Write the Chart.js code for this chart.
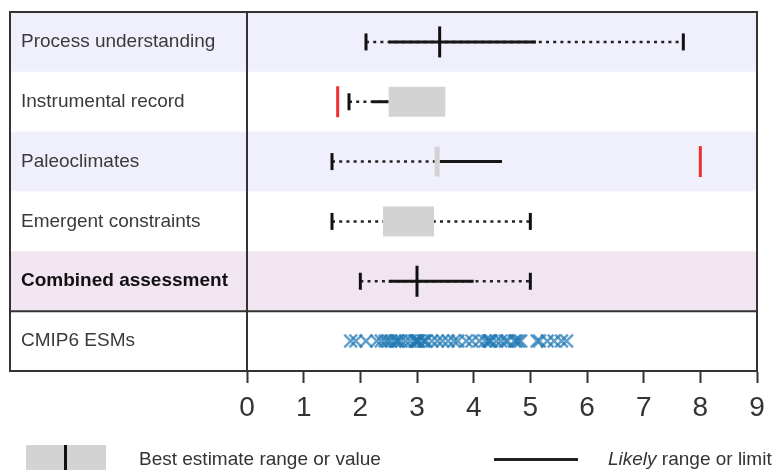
<!DOCTYPE html>
<html>
<head>
<meta charset="utf-8">
<script src="https://cdn.jsdelivr.net/npm/chart.js@4.4.0/dist/chart.umd.min.js"></script>
<style>
  html, body { margin: 0; padding: 0; background: #fff; }
  #wrap { position: relative; width: 775px; height: 470px; overflow: hidden; font-family: "Liberation Sans", Arial, sans-serif; }
  #legend .box { position: absolute; left: 26px; top: 445px; width: 80px; height: 30px; background: #d3d3d3; }
  #legend .box div { position: absolute; left: 38px; top: 0; width: 3px; height: 30px; background: #111; }
  #legend .line { position: absolute; left: 494px; top: 458px; width: 84px; height: 3px; background: #222; }
  #legend span { position: absolute; top: 448px; font-size: 19px; color: #333; white-space: nowrap; }
</style>
</head>
<body>
<div id="wrap">
  <canvas id="ecs-chart" width="775" height="470"></canvas>
  <div id="legend">
    <div class="box"><div></div></div>
    <span style="left:139px">Best estimate range or value</span>
    <div class="line"></div>
    <span style="left:608px"><i>Likely</i> range or limit</span>
  </div>
</div>
<script>
// Filas (de arriba a abajo)
const rowNames = ['Process understanding', 'Instrumental record', 'Paleoclimates', 'Emergent constraints', 'Combined assessment', 'CMIP6 ESMs'];
const xTicks = [0, 1, 2, 3, 4, 5, 6, 7, 8, 9];

// Rangos por fila (null = no aplica)
const bestLow  = [null, 2.5, 3.31, 2.4, null, null];
const bestHigh = [null, 3.5, 3.40, 3.3, null, null];
const bestValue = [3.4, null, null, null, 3.0, null];
const likelyLow  = [2.5, 2.2, 3.4, null, 2.5, null];
const likelyHigh = [5.1, 2.5, 4.5, null, 4.0, null];
const veryLikelyLow  = [2.1, 1.8, 1.5, 1.5, 2.0, null];
const veryLikelyHigh = [7.7, null, null, 5.0, 5.0, null];
const extremelyLow  = [null, 1.6, null, null, null, null];
const extremelyHigh = [null, null, 8.0, null, null, null];

// ECS de los modelos CMIP6
const cmip6Ecs = [1.83, 1.92, 2.1, 2.29, 2.37, 2.44, 2.49, 2.54, 2.61, 2.65, 2.66, 2.72, 2.8, 2.88, 2.96, 2.98,
  3.0, 3.02, 3.03, 3.11, 3.13, 3.16, 3.26, 3.36, 3.45, 3.55, 3.65, 3.72, 3.87, 3.97, 4.1, 4.2, 4.26, 4.28,
  4.31, 4.4, 4.48, 4.56, 4.6, 4.72, 4.75, 4.79, 4.83, 5.12, 5.16, 5.3, 5.42, 5.55, 5.64];

const rowFills = ['#f0f0fc', '#ffffff', '#f0f0fc', '#ffffff', '#f2e5f2', '#ffffff'];

const datasets = [];
const seg = (a, b, i) => [{x: a, y: i}, {x: b, y: i}];

// marcas de límites (negras y rojas) y mejor estimación
const endTicks = [], redTicks = [], bestTicks = [];
rowNames.forEach((_, i) => {
  if (veryLikelyLow[i] != null) endTicks.push({x: veryLikelyLow[i], y: i});
  if (veryLikelyHigh[i] != null) endTicks.push({x: veryLikelyHigh[i], y: i});
  if (extremelyLow[i] != null) redTicks.push({x: extremelyLow[i], y: i});
  if (extremelyHigh[i] != null) redTicks.push({x: extremelyHigh[i], y: i});
  if (bestValue[i] != null) bestTicks.push({x: bestValue[i], y: i});
});
const tickSet = (data, color, r) => ({
  type: 'scatter', data, showLine: false, pointStyle: 'line', pointRotation: 90,
  pointRadius: r, pointBorderWidth: 3, pointBorderColor: color, pointBackgroundColor: color
});
datasets.push(tickSet(bestTicks, '#111', 15.5));
datasets.push(tickSet(endTicks, '#111', 8.5));
datasets.push(tickSet(redTicks, '#f03030', 15.5));

// cajas grises
rowNames.forEach((_, i) => {
  if (bestLow[i] != null) datasets.push({type: 'line', data: seg(bestLow[i], bestHigh[i], i),
    borderColor: '#d3d3d3', borderWidth: 30, borderCapStyle: 'butt', pointRadius: 0});
});
// rango probable (línea continua)
rowNames.forEach((_, i) => {
  if (likelyLow[i] != null) datasets.push({type: 'line', data: seg(likelyLow[i], likelyHigh[i], i),
    borderColor: '#161616', borderWidth: 3, borderCapStyle: 'butt', pointRadius: 0});
});
// rango muy probable (punteado)
rowNames.forEach((_, i) => {
  if (veryLikelyLow[i] == null) return;
  const hi = veryLikelyHigh[i] ?? likelyHigh[i] ?? bestHigh[i];
  datasets.push({type: 'line', data: seg(veryLikelyLow[i], hi, i),
    borderColor: '#222', borderWidth: 2.5, borderDash: [3, 4.2], borderCapStyle: 'butt', pointRadius: 0});
});
// modelos CMIP6
datasets.push({type: 'scatter', data: cmip6Ecs.map(v => ({x: v, y: 5})), showLine: false,
  pointStyle: 'crossRot', pointRadius: 9, pointBorderWidth: 2.5,
  pointBorderColor: 'rgba(31,119,180,0.7)', pointBackgroundColor: 'rgba(31,119,180,0.7)'});

const framePlugin = {
  id: 'frame',
  beforeDraw(chart) {
    const {ctx, chartArea, scales: {y}} = chart;
    ctx.save();
    rowNames.forEach((_, i) => {
      const t = y.getPixelForValue(i - 0.5), b = y.getPixelForValue(i + 0.5);
      ctx.fillStyle = rowFills[i];
      ctx.fillRect(10, t, chartArea.right - 10, b - t);
    });
    ctx.restore();
  },
  afterDraw(chart) {
    const {ctx, chartArea: {left, right, top, bottom}, scales: {y}} = chart;
    ctx.save();
    ctx.strokeStyle = '#333';
    ctx.lineWidth = 2;
    ctx.strokeRect(10, top, right - 10, bottom - top);
    const sep = y.getPixelForValue(4.5);
    ctx.beginPath();
    ctx.moveTo(10, sep); ctx.lineTo(right, sep);
    ctx.moveTo(left, top); ctx.lineTo(left, bottom);
    ctx.stroke();
    ctx.restore();
  }
};

new Chart(document.getElementById('ecs-chart'), {
  type: 'scatter',
  data: { datasets },
  plugins: [framePlugin],
  options: {
    responsive: false,
    devicePixelRatio: 1,
    animation: false,
    layout: { autoPadding: false, padding: { left: 21, top: 12, right: 18, bottom: 50 } },
    plugins: { legend: { display: false }, tooltip: { enabled: false } },
    scales: {
      x: {
        type: 'linear', min: 0, max: 9,
        afterFit: s => { s.height = 49; },
        afterBuildTicks: s => { s.ticks = xTicks.map(v => ({value: v})); },
        grid: { drawOnChartArea: false, drawTicks: true, tickLength: 12, tickWidth: 2, tickColor: '#333' },
        border: { display: true, color: '#333', width: 2 },
        ticks: { color: '#333', padding: 8, font: { family: 'Liberation Sans', size: 28 } }
      },
      y: {
        type: 'linear', min: -0.5, max: 5.5, reverse: true,
        afterFit: s => { s.width = 226; s.paddingTop = 0; s.paddingBottom = 0; },
        afterBuildTicks: s => { s.ticks = rowNames.map((_, i) => ({value: i})); },
        grid: { display: false },
        border: { display: false },
        ticks: {
          crossAlign: 'far', padding: 0,
          callback: v => rowNames[v],
          color: c => c.index === 4 ? '#111' : '#3a3a3a',
          font: c => ({ family: 'Liberation Sans', size: 19, weight: c.index === 4 ? 'bold' : 'normal' })
        }
      }
    }
  }
});
</script>
</body>
</html>
